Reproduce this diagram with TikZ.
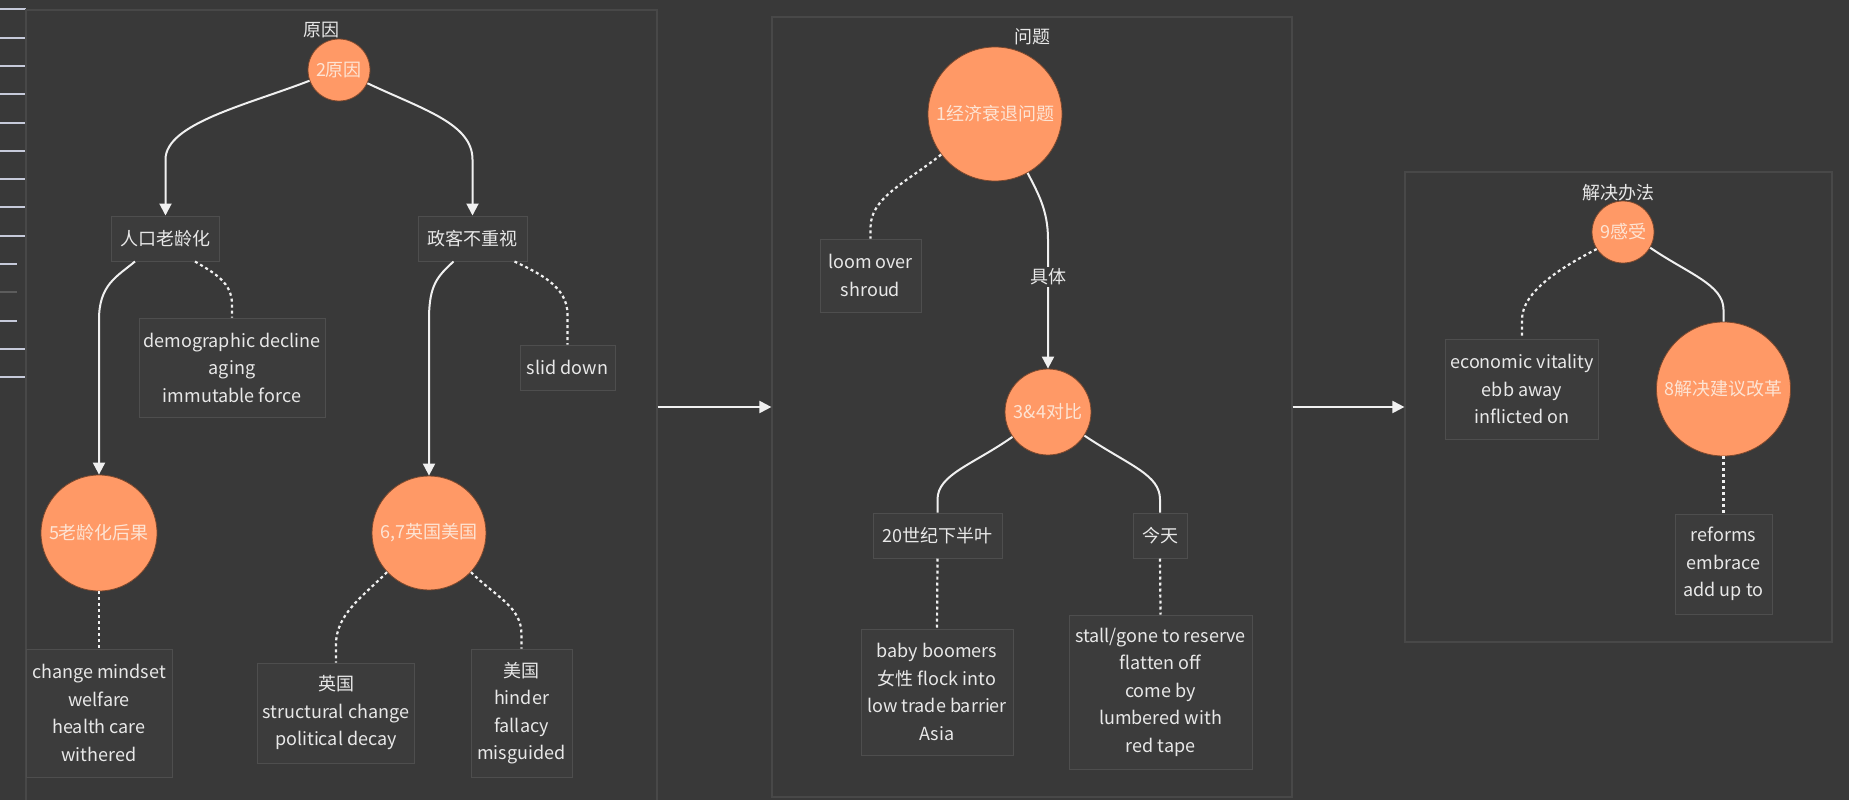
\documentclass[tikz,border=0pt]{standalone}
\usepackage{fontspec}
\setmainfont{Noto Sans CJK SC}
\usetikzlibrary{arrows.meta,calc}
\definecolor{bg}{RGB}{57,57,57}
\definecolor{framec}{RGB}{72,72,72}
\definecolor{boxfill}{RGB}{60,60,60}
\definecolor{boxline}{RGB}{78,78,78}
\definecolor{orangec}{RGB}{255,153,102}
\definecolor{orangeline}{RGB}{125,72,45}
\definecolor{circtext}{RGB}{253,228,212}
\definecolor{txt}{RGB}{232,232,232}
\definecolor{wire}{RGB}{240,240,240}
\definecolor{tick}{RGB}{198,202,218}
\definecolor{tickdim}{RGB}{92,92,92}

\begin{document}
\begin{tikzpicture}[x=1pt,y=-1pt,
  every node/.style={font=\fontsize{18}{27.5}\selectfont},
  frame/.style={draw=framec, line width=1.2pt, inner sep=0pt},
  box/.style={draw=boxline, fill=boxfill, line width=1pt, inner sep=0pt, align=center, text=txt},
  topic/.style={circle, fill=orangec, draw=orangeline, line width=0.8pt, inner sep=0pt, text=circtext},
  caption/.style={text=txt, inner sep=0pt},
  link/.style={draw=wire, line width=2pt},
  arr/.style={link, -{Triangle[length=12pt,width=12pt]}},
  dots/.style={draw=wire, line width=2.2pt, dash pattern=on 3pt off 3pt},
  tickmark/.style={draw=tick, line width=2pt},
]
\useasboundingbox (0,0) rectangle (1849,800);
\fill[bg] (0,0) rectangle (1849,800);

% ruler ticks along the left edge
\foreach \yy in {9.3,37.6,65.9,94.2,122.5,150.8,179.1,207.4,235.7,349,377.3}
  \draw[tickmark] (0,\yy) -- (26,\yy);
\foreach \yy in {264,320.6}
  \draw[tickmark] (0,\yy) -- (17,\yy);
\draw[tickmark, draw=tickdim] (0,292.3) -- (17,292.3);

% group frames
\node[frame, minimum width=631pt, minimum height=794pt] (f1) at (341.5,407) {};
\node[frame, minimum width=520pt, minimum height=780pt] (f2) at (1032,407) {};
\node[frame, minimum width=427pt, minimum height=470pt] (f3) at (1618.5,407) {};
\draw[arr] (f1.east) -- (f2.west);
\draw[arr] (f2.east) -- (f3.west);

% group titles
\node[caption] (lab1) at (321,30) {原因};
\node[caption] (lab2) at (1032,37) {问题};
\node[caption] (lab3) at (1618,193) {解决办法};

% topic circles
\node[topic, minimum size=62pt] (c2) at (339,70) {2原因};
\node[topic, minimum size=116pt] (c5) at (99,533) {5老龄化后果};
\node[topic, minimum size=114pt] (c67) at (429,533) {6,7英国美国};
\node[topic, minimum size=134pt] (c1) at (995,114) {1经济衰退问题};
\node[topic, minimum size=86pt] (c34) at (1048,412) {3\&4对比};
\node[topic, minimum size=62pt] (c9) at (1623,232) {9感受};
\node[topic, minimum size=134pt] (c8) at (1723.5,389) {8解决建议改革};

% text boxes
\node[box, minimum width=108pt, minimum height=45pt] (rk) at (165.5,238.5) {人口老龄化};
\node[box, minimum width=109pt, minimum height=45pt] (zk) at (472.5,238.5) {政客不重视};
\node[box, minimum width=186pt, minimum height=99pt] (demo) at (232,367.5) {demographic decline\\aging\\immutable force};
\node[box, minimum width=95pt, minimum height=45pt] (slid) at (567.5,367.5) {slid down};
\node[box, minimum width=146pt, minimum height=128pt] (chg) at (99,713) {change mindset\\welfare\\health care\\withered};
\node[box, minimum width=157pt, minimum height=100pt] (uk) at (336,713) {英国\\structural change\\political decay};
\node[box, minimum width=101pt, minimum height=128pt] (us) at (521.5,713) {美国\\hinder\\fallacy\\misguided};
\node[box, minimum width=101pt, minimum height=73pt] (loom) at (870.5,275.5) {loom over\\shroud};
\node[box, minimum width=129pt, minimum height=45pt] (c20) at (937.5,535.5) {20世纪下半叶};
\node[box, minimum width=54pt, minimum height=45pt] (today) at (1160,535.5) {今天};
\node[box, minimum width=152pt, minimum height=126pt] (baby) at (937,692) {baby boomers\\女性 flock into\\low trade barrier\\Asia};
\node[box, minimum width=183pt, minimum height=154pt] (stall) at (1160.5,692) {stall/gone to reserve\\flatten off\\come by\\lumbered with\\red tape};
\node[box, minimum width=153pt, minimum height=100pt] (econ) at (1522,389) {economic vitality\\ebb away\\inflicted on};
\node[box, minimum width=97pt, minimum height=100pt] (ref) at (1723.5,564) {reforms\\embrace\\add up to};

% causes
\draw[arr] (c2.200) .. controls ($(c2.200)+(-62,24)$) and ($(rk.north)+(0,-92)$) .. ($(rk.north)+(0,-56)$) -- (rk.north);
\draw[arr] (c2.335) .. controls ($(c2.335)+(55,26)$) and ($(zk.north)+(0,-92)$) .. ($(zk.north)+(0,-56)$) -- (zk.north);
\draw[arr] ($(rk.south west)+(24,0)$) .. controls ($(rk.south west)+(6,15)$) and ($(c5.north)+(0,-190)$) .. ($(c5.north)+(0,-155)$) -- (c5.north);
\draw[arr] ($(zk.south west)+(36,0)$) .. controls ($(zk.south west)+(20,15)$) and ($(c67.north)+(0,-191)$) .. ($(c67.north)+(0,-156)$) -- (c67.north);
\draw[dots] ($(rk.south east)+(-25,0)$) .. controls ($(rk.south east)+(-5,12)$) and ($(demo.north)+(0,-35)$) .. ($(demo.north)+(0,-13)$) -- (demo.north);
\draw[dots] ($(zk.south east)+(-13,0)$) .. controls ($(zk.south east)+(12,12)$) and ($(slid.north)+(0,-58)$) .. ($(slid.north)+(0,-30)$) -- (slid.north);
\draw[dots] (c5.south) -- (chg.north);
\draw[dots] (c67.223) .. controls ($(c67.223)+(-25,25)$) and ($(uk.north)+(0,-48)$) .. ($(uk.north)+(0,-18)$) -- (uk.north);
\draw[dots] (c67.317) .. controls ($(c67.317)+(25,25)$) and ($(us.north)+(0,-42)$) .. ($(us.north)+(0,-14)$) -- (us.north);

% problem
\draw[dots] (c1.217) .. controls ($(c1.217)+(-35,28)$) and ($(loom.north)+(0,-41)$) .. ($(loom.north)+(0,-11)$) -- (loom.north);
\draw[arr] (c1.299) .. controls ($(c1.299)+(10,20)$) and ($(c34.north)+(0,-159)$) .. ($(c34.north)+(0,-129)$) -- (c34.north);
\draw[link] (c34.215) .. controls ($(c34.215)+(-40,28)$) and ($(c20.north)+(0,-38)$) .. ($(c20.north)+(0,-13)$) -- (c20.north);
\draw[link] (c34.327) .. controls ($(c34.327)+(45,30)$) and ($(today.north)+(0,-38)$) .. ($(today.north)+(0,-13)$) -- (today.north);
\draw[dots] (c20.south) -- (baby.north);
\draw[dots] (today.south) -- (stall.north);
\node[caption, fill=bg, inner sep=2pt] (jt) at (1048,277) {具体};

% solution
\draw[dots] (c9.213) .. controls ($(c9.213)+(-35,18)$) and ($(econ.north)+(0,-47)$) .. ($(econ.north)+(0,-19)$) -- (econ.north);
\draw[link] (c9.330) .. controls ($(c9.330)+(38,26)$) and ($(c8.north)+(0,-37)$) .. ($(c8.north)+(0,-12)$) -- (c8.north);
\draw[dots] (c8.south) -- (ref.north);
\end{tikzpicture}
\end{document}
